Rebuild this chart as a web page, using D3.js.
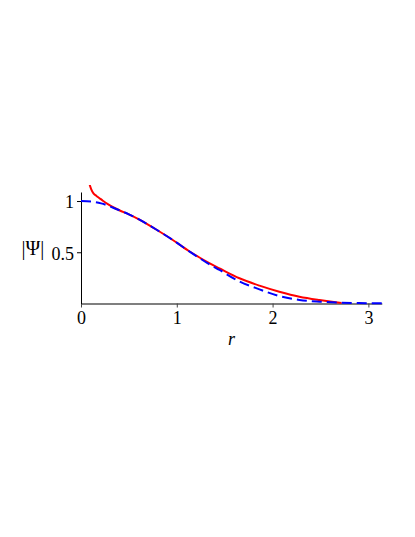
<!DOCTYPE html>
<html>
<head>
<meta charset="utf-8">
<script src="https://cdn.jsdelivr.net/npm/d3@7"></script>
<style>
  html, body { margin: 0; padding: 0; background: #fff; }
  svg { display: block; }
</style>
</head>
<body>
<script>
// ---- data ----
const xTicks = [0, 1, 2, 3];
const yTicks = [0.5, 1];
const xTickLabels = ["0", "1", "2", "3"];
const yTickLabels = ["0.5", "1"];
const xLabel = "r";
const yLabel = "|\u03A8|";

// blue dashed curve
const blueR = [0, 0.12, 0.21, 0.33, 0.4, 0.5, 0.61, 0.7, 0.785, 0.958, 1.13, 1.237, 1.32, 1.446, 1.654, 1.863, 2.07, 2.28, 2.49, 2.7, 2.9, 3.14];
const blueV = [1.0, 0.993, 0.977, 0.937, 0.91, 0.87, 0.818, 0.77, 0.722, 0.62, 0.508, 0.443, 0.394, 0.327, 0.215, 0.138, 0.072, 0.035, 0.018, 0.008, 0.004, 0.002];

// red solid curve
const redR = [0.09, 0.106, 0.13, 0.159, 0.19, 0.228, 0.28, 0.33, 0.4, 0.5, 0.61, 0.7, 0.785, 0.958, 1.13, 1.237, 1.32, 1.446, 1.654, 1.863, 2.07, 2.28, 2.49, 2.6, 2.72];
const redV = [1.16, 1.117, 1.075, 1.052, 1.03, 1.003, 0.97, 0.943, 0.91, 0.87, 0.818, 0.77, 0.722, 0.62, 0.51, 0.449, 0.404, 0.343, 0.246, 0.174, 0.115, 0.066, 0.034, 0.02, 0.006];

const W = 415, H = 537;
const svg = d3.select("body").append("svg").attr("width", W).attr("height", H);

const x = d3.scaleLinear().domain([0, 3.14]).range([81, 381.8]);
const y = d3.scaleLinear().domain([0, 1.088]).range([303.5, 192]);

const font = "'Liberation Serif', 'Times New Roman', serif";

// clip for curves
svg.append("defs").append("clipPath").attr("id", "clip")
  .append("rect").attr("x", 81).attr("y", 185).attr("width", 305).attr("height", 125);

// axes
const xAxis = d3.axisBottom(x).tickValues(xTicks).tickSize(4).tickSizeOuter(0)
  .tickFormat((d, i) => xTickLabels[i]);
const gx = svg.append("g").attr("transform", "translate(0,303.5)").call(xAxis);
gx.select(".domain").attr("stroke", "#555").attr("stroke-width", 1.5);
gx.selectAll(".tick line").attr("stroke", "#444");
gx.selectAll(".tick text").attr("font-family", font).attr("font-size", 18)
  .attr("fill", "#000").attr("y", 8).attr("dy", "0.71em");

const yAxis = d3.axisLeft(y).tickValues(yTicks).tickSize(4).tickSizeOuter(0)
  .tickFormat((d, i) => yTickLabels[i]);
const gy = svg.append("g").attr("transform", "translate(81,0)").call(yAxis);
gy.select(".domain").attr("stroke", "#000").attr("stroke-width", 1);
gy.selectAll(".tick line").attr("stroke", "#000");
gy.selectAll(".tick text").attr("font-family", font).attr("font-size", 18)
  .attr("fill", "#000").attr("x", -7).attr("dy", "0.38em");

// curves
const line = d3.line().x(d => x(d[0])).y(d => y(d[1])).curve(d3.curveMonotoneX);
const redData = redR.map((r, i) => [r, redV[i]]);
const blueData = blueR.map((r, i) => [r, blueV[i]]);

const plot = svg.append("g").attr("clip-path", "url(#clip)");
plot.append("path").datum(redData).attr("d", line)
  .attr("fill", "none").attr("stroke", "#ff0000").attr("stroke-width", 2);
plot.append("path").datum(blueData).attr("d", line)
  .attr("fill", "none").attr("stroke", "#0000ff").attr("stroke-width", 2)
  .attr("stroke-dasharray", "10,5");

// axis labels
svg.append("text").attr("x", x(1.57)).attr("y", 345)
  .attr("text-anchor", "middle").attr("font-family", font).attr("font-size", 18)
  .attr("font-style", "italic").text(xLabel);
svg.append("text").attr("x", 33).attr("y", 255)
  .attr("text-anchor", "middle").attr("font-family", font).attr("font-size", 20)
  .attr("fill", "#000").text(yLabel);
</script>
</body>
</html>
